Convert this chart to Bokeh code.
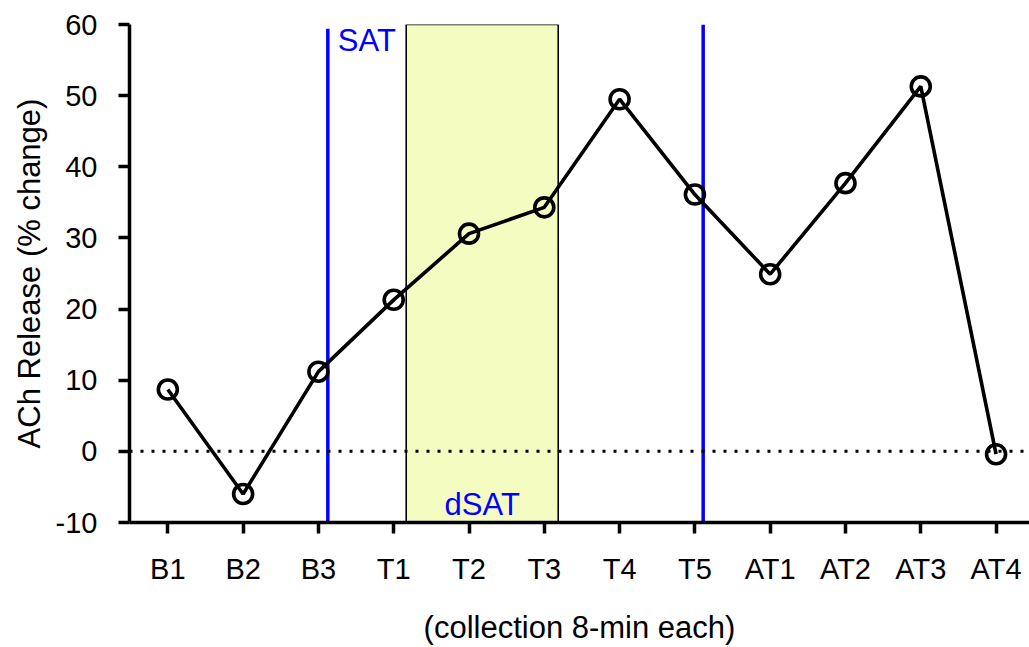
from bokeh.plotting import figure
from bokeh.models import Range1d, FixedTicker, Span
from bokeh.core.properties import value
from bokeh.embed import file_html
from bokeh.resources import INLINE

# ---- data ----
categories = ["B1", "B2", "B3", "T1", "T2", "T3", "T4", "T5", "AT1", "AT2", "AT3", "AT4"]
ach_release = [8.7, -6.0, 11.2, 21.3, 30.6, 34.3, 49.5, 36.1, 24.9, 37.7, 51.3, -0.4]
y_ticks = [-10, 0, 10, 20, 30, 40, 50, 60]
y_tick_labels = ["-10", "0", "10", "20", "30", "40", "50", "60"]

# event markers (positions on the category index axis)
sat_start = 2.125
sat_end = 7.11
dsat_left = 3.166
dsat_right = 5.185

FONT = "Liberation Sans"
xs = list(range(len(categories)))

p = figure(width=1029, height=647, output_backend="svg", toolbar_location=None,
           x_range=Range1d(-0.509, 11.444), y_range=Range1d(-10, 60),
           min_border_left=129, min_border_right=0, min_border_top=24,
           min_border_bottom=124)
p.outline_line_color = None
p.xgrid.visible = False
p.ygrid.visible = False
p.background_fill_color = "white"
p.border_fill_color = "white"

# dSAT shaded period
p.quad(left=[dsat_left], right=[dsat_right], bottom=[-10], top=[60],
       fill_color="#F4FCC2", line_color="black", line_width=1.6)

# zero reference line
p.add_layout(Span(location=0, dimension="width", line_color="black",
                  line_width=3, line_dash="3 8"))

# SAT lines
p.segment(x0=[sat_start, sat_end], x1=[sat_start, sat_end], y0=[-10, -10],
          y1=[59.4, 60], line_color="#0000FF", line_width=3.5)

p.text(x=[sat_start], y=[57.8], text=["SAT"], x_offset=10,
       text_font=value(FONT), text_font_size="31px", text_color="#0000FF",
       text_baseline="alphabetic", text_align="left")
p.text(x=[(dsat_left + dsat_right) / 2], y=[-7.4], text=["dSAT"],
       text_font=value(FONT), text_font_size="31px", text_color="#0000FF",
       text_baseline="alphabetic", text_align="center")

# data series
p.line(xs, ach_release, line_color="black", line_width=3.6)
p.scatter(xs, ach_release, marker="circle", size=19, fill_color=None,
          line_color="black", line_width=3.6)

# axes
xa = p.xaxis[0]
xa.ticker = FixedTicker(ticks=xs)
xa.major_label_overrides = {i: c for i, c in enumerate(categories)}
xa.axis_label = "(collection 8-min each)"
ya = p.yaxis[0]
ya.ticker = FixedTicker(ticks=y_ticks)
ya.major_label_overrides = dict(zip(y_ticks, y_tick_labels))
ya.axis_label = "ACh Release (% change)"

for ax in (xa, ya):
    ax.axis_line_width = 3.5
    ax.axis_line_color = "black"
    ax.major_tick_line_width = 3.5
    ax.major_tick_line_color = "black"
    ax.major_tick_in = 0
    ax.major_tick_out = 11
    ax.minor_tick_line_color = None
    ax.major_label_text_font = FONT
    ax.major_label_text_color = "black"
    ax.major_label_text_font_size = "29px"
    ax.axis_label_text_font = FONT
    ax.axis_label_text_font_style = "normal"
    ax.axis_label_text_color = "black"
    ax.axis_label_text_font_size = "31px"

xa.major_label_standoff = 19
ya.major_label_standoff = 21
xa.axis_label_standoff = 22
ya.axis_label_standoff = 6

open("out.html", "w").write(file_html(p, INLINE))
